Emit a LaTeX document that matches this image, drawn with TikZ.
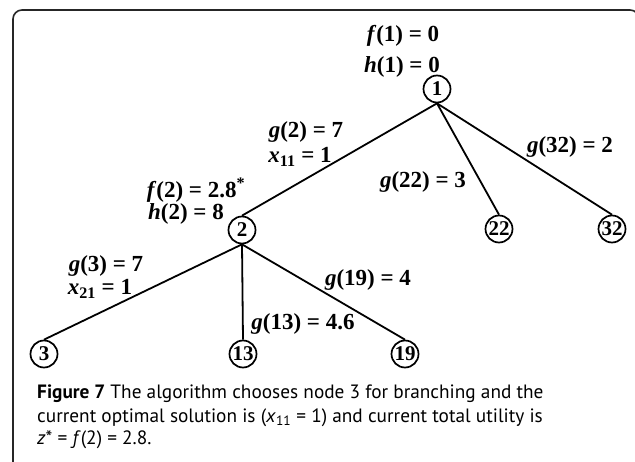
\documentclass[tikz,border=0pt]{standalone}
\usepackage{fontspec}
\setmainfont{Liberation Serif}
\newfontfamily\capfont{PT Sans}
\begin{document}
\begin{tikzpicture}[x=1pt,y=-1pt,
  tnode/.style={circle,draw,line width=1.7pt,minimum size=27pt,inner sep=0pt,font=\fontsize{21}{21}\selectfont\bfseries},
  lab/.style={inner sep=0pt,font=\fontsize{23}{23}\selectfont\bfseries},
  conn/.style={line width=1.8pt},
  captext/.style={inner sep=0pt,anchor=base west,font=\capfont\fontsize{19.3}{19.3}\selectfont}]
\useasboundingbox (0,0) rectangle (635,462);
\draw[line width=1.6pt,color=black!85,rounded corners=9pt] (13,470) -- (13,10) -- (639,10) -- (639,40);
% nodes
\node[tnode] (n1) at (437,89) {1};
\node[tnode] (n2) at (242,230) {2};
\node[tnode] (n22) at (499,229) {22};
\node[tnode] (n32) at (612,229) {32};
\node[tnode] (n3) at (44,354) {3};
\node[tnode] (n13) at (243,354) {13};
\node[tnode] (n19) at (405,354) {19};
% edges
\draw[conn] (n1.south) -- (n2.north);
\draw[conn] (n1.south) -- (n22.north);
\draw[conn] (n1.south) -- (n32.north);
\draw[conn] (n2.south) -- (n3.north);
\draw[conn] (n2.south) -- (n13.north);
\draw[conn] (n2.south) -- (n19.north);
% labels
\node[lab] (lf1) at (403,36) {\textit{f}(1) = 0};
\node[lab] (lh1) at (402,67) {\textit{h}(1) = 0};
\node[lab] (lg2) at (306,132) {\textit{g}(2) = 7};
\node[lab] (lx11) at (300,157) {\textit{x}\textsubscript{11} = 1};
\node[lab] (lg32) at (570,147) {\textit{g}(32) = 2};
\node[lab] (lg22) at (423,182) {\textit{g}(22) = 3};
\node[lab] (lf2) at (196,190) {\textit{f}(2) = 2.8\textsuperscript{*}};
\node[lab] (lh2) at (186,214) {\textit{h}(2) = 8};
\node[lab] (lg3) at (106,266) {\textit{g}(3) = 7};
\node[lab] (lx21) at (100,289) {\textit{x}\textsubscript{21} = 1};
\node[lab] (lg19) at (368,280) {\textit{g}(19) = 4};
\node[lab] (lg13) at (303,324) {\textit{g}(13) = 4.6};
% caption
\node[captext] (c1) at (37,399) {\textbf{Figure 7} The algorithm chooses node 3 for branching and the};
\node[captext] (c2) at (37,422) {current optimal solution is (\textit{x}\textsubscript{11} = 1) and current total utility is};
\node[captext] (c3) at (37,445) {\textit{z}* = \textit{f}(2) = 2.8.};
\end{tikzpicture}
\end{document}
